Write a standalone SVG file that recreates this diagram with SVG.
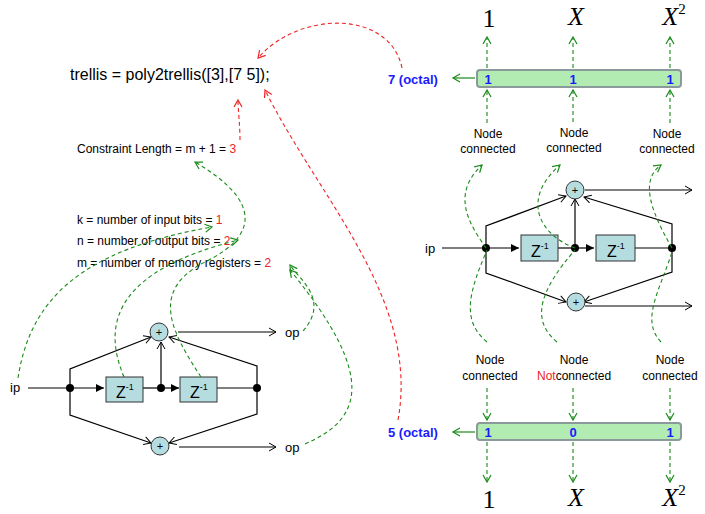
<svg xmlns="http://www.w3.org/2000/svg" width="705" height="514" viewBox="0 0 705 514">
<defs>
<marker id="a" markerWidth="10" markerHeight="10" refX="8" refY="5" orient="auto" markerUnits="userSpaceOnUse"><path d="M1,1 L8,5 L1,9" fill="none" stroke="#000" stroke-width="1"/></marker>
<marker id="f" markerWidth="10" markerHeight="10" refX="8" refY="5" orient="auto" markerUnits="userSpaceOnUse"><path d="M0,1 L8,5 L0,9z" fill="#000"/></marker>
<marker id="g" markerWidth="10" markerHeight="10" refX="8" refY="5" orient="auto" markerUnits="userSpaceOnUse"><path d="M1,1 L8,5 L1,9" fill="none" stroke="#1a8a1a" stroke-width="1.2"/></marker>
<marker id="r" markerWidth="10" markerHeight="10" refX="8" refY="5" orient="auto" markerUnits="userSpaceOnUse"><path d="M1,1 L8,5 L1,9" fill="none" stroke="#e22" stroke-width="1.2"/></marker>
</defs>
<style>
text{font-family:"Liberation Sans",Arial,sans-serif;fill:#000}
.w{fill:none;stroke:#000;stroke-width:1.2}
.box{fill:#b5dde0;stroke:#333;stroke-width:1}
.gd{fill:none;stroke:#1a8a1a;stroke-width:1.1;stroke-dasharray:4 3}
.rd{fill:none;stroke:#e22;stroke-width:1.1;stroke-dasharray:4 3}
.bar{fill:#b3ecb3;stroke:#8a9a9a;stroke-width:2}
.b{fill:#1a1aff;font-weight:bold;font-size:13px}
.s{font-size:12px}
.poly{font-family:"Liberation Serif",serif;font-size:26px}
</style>
<g id="texts">
<text x="70" y="80" font-size="16">trellis = poly2trellis([3],[7 5]);</text>
<text x="77" y="153" class="s">Constraint Length = m + 1 = <tspan fill="#e22">3</tspan></text>
<text x="77" y="224" class="s">k = number of input bits = <tspan fill="#e22">1</tspan></text>
<text x="77" y="245" class="s">n = number of output bits = <tspan fill="#e22">2</tspan></text>
<text x="77" y="267" class="s">m = number of memory registers = <tspan fill="#e22">2</tspan></text>
</g>
<g id="left-circuit">
<text x="10" y="392" font-size="13">ip</text>
<text x="285" y="337" font-size="13">op</text>
<text x="285" y="452" font-size="13">op</text>
<path class="w" d="M28,388 H70" />
<path class="w" d="M70,388 H104" marker-end="url(#f)"/>
<path class="w" d="M143,388 H161" />
<path class="w" d="M161,388 H179" marker-end="url(#f)"/>
<path class="w" d="M217,388 H257" />
<path class="w" d="M70,388 V369 L151,337" marker-end="url(#a)"/>
<path class="w" d="M70,388 V415 L151,443" marker-end="url(#a)"/>
<path class="w" d="M257,388 V366 L169,337" marker-end="url(#a)"/>
<path class="w" d="M257,388 V414 L169,443" marker-end="url(#a)"/>
<path class="w" d="M161,388 V342" marker-end="url(#a)"/>
<path class="w" d="M178,332 H276" marker-end="url(#a)"/>
<path class="w" d="M179,447 H276" marker-end="url(#a)"/>
<rect class="box" x="106" y="377" width="37" height="25"/>
<rect class="box" x="180" y="377" width="37" height="25"/>
<text x="116" y="398" font-size="16">Z<tspan font-size="9" dy="-8">-1</tspan></text>
<text x="190" y="398" font-size="16">Z<tspan font-size="9" dy="-8">-1</tspan></text>
<circle cx="70" cy="388" r="4"/><circle cx="161" cy="388" r="4"/><circle cx="257" cy="388" r="4"/>
<circle class="box" cx="159" cy="332" r="9"/><text x="159" y="336" font-size="11" text-anchor="middle">+</text>
<circle class="box" cx="160" cy="446" r="9"/><text x="160" y="450" font-size="11" text-anchor="middle">+</text>
</g>
<g id="right-circuit">
<text x="425" y="253" font-size="13">ip</text>
<path class="w" d="M442,248 H486"/>
<path class="w" d="M486,248 H519" marker-end="url(#f)"/>
<path class="w" d="M558,248 H575"/>
<path class="w" d="M575,248 H594" marker-end="url(#f)"/>
<path class="w" d="M635,248 H672"/>
<path class="w" d="M486,248 V226 L566,196" marker-end="url(#a)"/>
<path class="w" d="M486,248 V273 L566,302" marker-end="url(#a)"/>
<path class="w" d="M672,248 V224 L584,197" marker-end="url(#a)"/>
<path class="w" d="M672,248 V272 L584,302" marker-end="url(#a)"/>
<path class="w" d="M575,248 V199" marker-end="url(#a)"/>
<path class="w" d="M585,190 H692" marker-end="url(#a)"/>
<path class="w" d="M585,306 H692" marker-end="url(#a)"/>
<rect class="box" x="521" y="235" width="37" height="26"/>
<rect class="box" x="596" y="235" width="39" height="26"/>
<text x="531" y="257" font-size="16">Z<tspan font-size="9" dy="-8">-1</tspan></text>
<text x="607" y="257" font-size="16">Z<tspan font-size="9" dy="-8">-1</tspan></text>
<circle cx="486" cy="248" r="4"/><circle cx="575" cy="248" r="4"/><circle cx="672" cy="248" r="4"/>
<circle class="box" cx="575" cy="190" r="9"/><text x="575" y="194" font-size="11" text-anchor="middle">+</text>
<circle class="box" cx="576" cy="302" r="9"/><text x="576" y="306" font-size="11" text-anchor="middle">+</text>
</g>
<g id="top-bar">
<rect class="bar" x="477" y="70" width="204" height="17" rx="3"/>
<text x="488" y="84" class="b" text-anchor="middle">1</text>
<text x="573" y="84" class="b" text-anchor="middle">1</text>
<text x="670" y="84" class="b" text-anchor="middle">1</text>
<text x="388" y="84" class="b">7 (octal)</text>
<text x="489" y="27" class="poly" text-anchor="middle">1</text>
<text x="576" y="25" class="poly" font-style="italic" text-anchor="middle">X</text>
<text x="674" y="25" class="poly" font-style="italic" text-anchor="middle">X<tspan font-size="15" font-style="normal" dy="-11">2</tspan></text>
<text x="488" y="138" class="s" text-anchor="middle">Node</text><text x="488" y="153" class="s" text-anchor="middle">connected</text>
<text x="574" y="137" class="s" text-anchor="middle">Node</text><text x="574" y="152" class="s" text-anchor="middle">connected</text>
<text x="667" y="138" class="s" text-anchor="middle">Node</text><text x="667" y="153" class="s" text-anchor="middle">connected</text>
</g>
<g id="bottom-bar">
<rect class="bar" x="477" y="423" width="204" height="17" rx="3"/>
<text x="488" y="437" class="b" text-anchor="middle">1</text>
<text x="573" y="437" class="b" text-anchor="middle">0</text>
<text x="670" y="437" class="b" text-anchor="middle">1</text>
<text x="388" y="437" class="b">5 (octal)</text>
<text x="489" y="508" class="poly" text-anchor="middle">1</text>
<text x="576" y="506" class="poly" font-style="italic" text-anchor="middle">X</text>
<text x="674" y="506" class="poly" font-style="italic" text-anchor="middle">X<tspan font-size="15" font-style="normal" dy="-11">2</tspan></text>
<text x="490" y="364" class="s" text-anchor="middle">Node</text><text x="490" y="380" class="s" text-anchor="middle">connected</text>
<text x="574" y="364" class="s" text-anchor="middle">Node</text><text x="537" y="380" class="s"><tspan fill="#e22">Not</tspan>connected</text>
<text x="670" y="364" class="s" text-anchor="middle">Node</text><text x="670" y="380" class="s" text-anchor="middle">connected</text>
</g>
<g id="connectors">
<path d="M475,78 H453" fill="none" stroke="#1a8a1a" stroke-width="1.2" marker-end="url(#g)"/>
<path d="M475,432 H453" fill="none" stroke="#1a8a1a" stroke-width="1.2" marker-end="url(#g)"/>
<path class="gd" d="M487,68 V37" marker-end="url(#g)"/>
<path class="gd" d="M573,68 V37" marker-end="url(#g)"/>
<path class="gd" d="M670,68 V37" marker-end="url(#g)"/>
<path class="gd" d="M487,123 V90" marker-end="url(#g)"/>
<path class="gd" d="M573,122 V90" marker-end="url(#g)"/>
<path class="gd" d="M670,123 V90" marker-end="url(#g)"/>
<path class="gd" d="M487,388 V420" marker-end="url(#g)"/>
<path class="gd" d="M573,388 V420" marker-end="url(#g)"/>
<path class="gd" d="M670,388 V420" marker-end="url(#g)"/>
<path class="gd" d="M487,442 V482" marker-end="url(#g)"/>
<path class="gd" d="M573,442 V482" marker-end="url(#g)"/>
<path class="gd" d="M670,442 V482" marker-end="url(#g)"/>
<path class="gd" d="M486,248 C470,225 450,195 482,165" marker-end="url(#g)"/>
<path class="gd" d="M575,248 C540,235 520,200 560,165" marker-end="url(#g)"/>
<path class="gd" d="M672,248 C650,210 640,180 661,165" marker-end="url(#g)"/>
<path class="gd" d="M487,342 C460,320 470,290 487,250"/>
<path class="gd" d="M557,342 C530,320 540,290 575,250"/>
<path class="gd" d="M661,342 C640,320 660,290 672,252"/>
<path class="gd" d="M18,378 C30,300 80,250 212,227" marker-end="url(#g)"/>
<path class="gd" d="M124,377 C100,320 120,270 238,240" marker-end="url(#g)"/>
<path class="gd" d="M201,377 C170,330 150,290 205,262 C260,235 260,200 195,162" marker-end="url(#g)"/>
<path class="gd" d="M303,331 C330,300 300,280 290,265" marker-end="url(#g)"/>
<path class="gd" d="M305,444 C360,420 380,380 290,270" marker-end="url(#g)"/>
<path class="rd" d="M402,68 C390,10 300,10 258,58" marker-end="url(#r)"/>
<path class="rd" d="M398,420 C420,300 320,200 265,90" marker-end="url(#r)"/>
<path class="rd" d="M240,140 C240,125 238,110 238,100" marker-end="url(#r)"/>
</g>
</svg>
